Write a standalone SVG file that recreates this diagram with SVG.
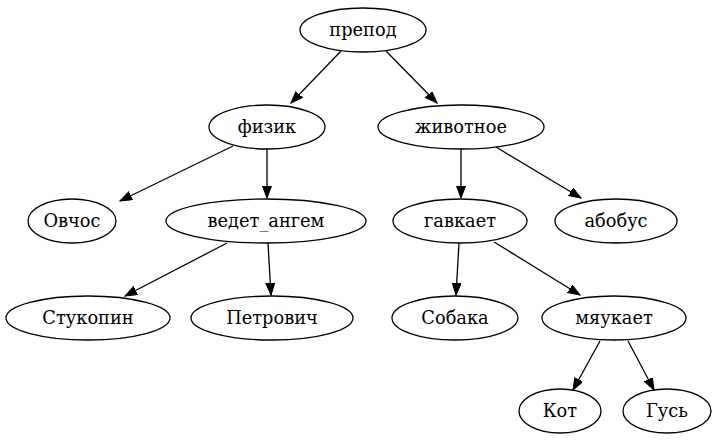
<svg xmlns="http://www.w3.org/2000/svg" width="718" height="443" viewBox="0 0 718 443">
<style>
.n ellipse{fill:none;stroke:#000;stroke-width:1.3}
.n text{font-family:"DejaVu Serif",serif;font-size:17.8px;text-anchor:middle;fill:#000}
.e line{stroke:#000;stroke-width:1.3;marker-end:url(#ah)}
</style>
<defs>
<marker id="ah" markerUnits="userSpaceOnUse" markerWidth="13" markerHeight="10" refX="12" refY="4.5" orient="auto">
<path d="M0,0 L12,4.5 L0,9 z" fill="#000" stroke="#000" stroke-width="1"/>
</marker>
</defs>
<rect width="718" height="443" fill="#fff"/>
<g id="edges" class="e">
<line x1="341" y1="51" x2="291" y2="103"/>
<line x1="386" y1="51" x2="437" y2="103"/>
<line x1="233" y1="146" x2="120" y2="201"/>
<line x1="267" y1="149" x2="267" y2="198"/>
<line x1="461" y1="149" x2="461" y2="198"/>
<line x1="496" y1="147" x2="581" y2="198"/>
<line x1="227" y1="243" x2="125" y2="296"/>
<line x1="268" y1="243" x2="271" y2="295"/>
<line x1="459" y1="243" x2="456" y2="295"/>
<line x1="494" y1="242" x2="580" y2="295"/>
<line x1="600" y1="341" x2="573" y2="390"/>
<line x1="628" y1="341" x2="654" y2="390"/>
</g>
<g id="prepod" class="n"><ellipse cx="363" cy="30" rx="63" ry="22"/><text x="363" y="36">препод</text></g>
<g id="fizik" class="n"><ellipse cx="267" cy="127" rx="58" ry="22"/><text x="267" y="133">физик</text></g>
<g id="zhivotnoe" class="n"><ellipse cx="461" cy="127" rx="83" ry="22"/><text x="461" y="133">животное</text></g>
<g id="ovchos" class="n"><ellipse cx="72" cy="221" rx="44" ry="22"/><text x="72" y="227">Овчос</text></g>
<g id="vedet" class="n"><ellipse cx="266" cy="221" rx="100" ry="22"/><text x="266" y="227">ведет_ангем</text></g>
<g id="gavkaet" class="n"><ellipse cx="460" cy="221" rx="67" ry="22"/><text x="460" y="227">гавкает</text></g>
<g id="abobus" class="n"><ellipse cx="616" cy="221" rx="61" ry="22"/><text x="616" y="227">абобус</text></g>
<g id="stukopin" class="n"><ellipse cx="88" cy="318" rx="82" ry="22"/><text x="88" y="324">Стукопин</text></g>
<g id="petrovich" class="n"><ellipse cx="272" cy="318" rx="81" ry="22"/><text x="272" y="324">Петрович</text></g>
<g id="sobaka" class="n"><ellipse cx="455" cy="318" rx="63" ry="22"/><text x="455" y="324">Собака</text></g>
<g id="myaukaet" class="n"><ellipse cx="614" cy="318" rx="72" ry="22"/><text x="614" y="324">мяукает</text></g>
<g id="kot" class="n"><ellipse cx="560" cy="411" rx="41" ry="22"/><text x="560" y="417">Кот</text></g>
<g id="gus" class="n"><ellipse cx="667" cy="411" rx="44" ry="22"/><text x="667" y="417">Гусь</text></g>
</svg>
